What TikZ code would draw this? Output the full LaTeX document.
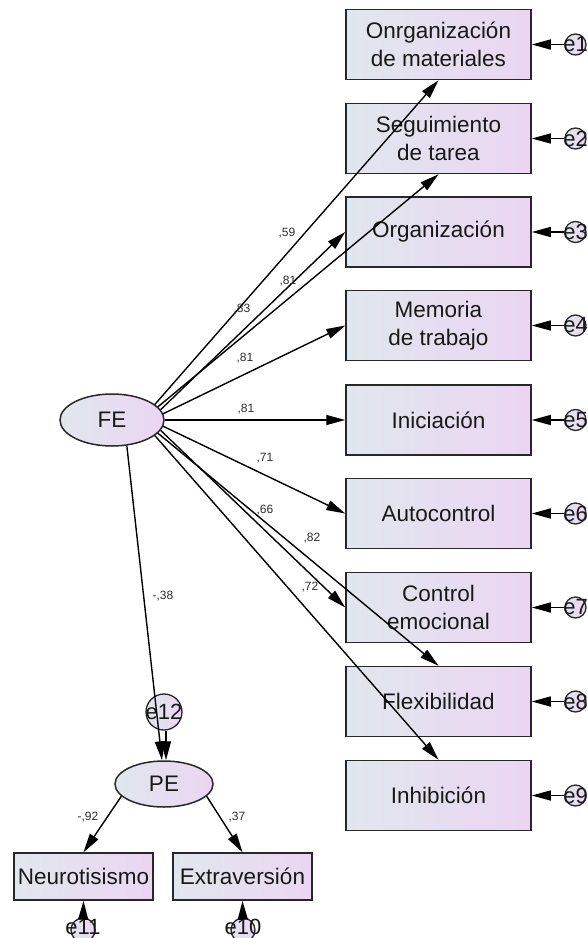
\documentclass[tikz,border=0pt]{standalone}
\usepackage{fontspec}
\setmainfont{Liberation Sans}
\usetikzlibrary{shapes.geometric,arrows.meta}
\definecolor{shadeL}{RGB}{225,231,238}
\definecolor{shadeR}{RGB}{235,213,242}
\definecolor{edgegray}{RGB}{40,40,40}
\definecolor{labgray}{RGB}{45,45,45}

\begin{document}
\begin{tikzpicture}[x=1pt,y=-1pt,
  varbox/.style={rectangle, draw=edgegray, line width=1.5pt, left color=shadeL, right color=shadeR,
    minimum width=185pt, minimum height=70pt, inner sep=0pt, align=center,
    font=\fontsize{22.5}{28}\selectfont, text=black!90},
  smallbox/.style={varbox, minimum width=139pt, minimum height=47pt},
  latent/.style={ellipse, draw=edgegray, line width=1.5pt, left color=shadeL, right color=shadeR,
    inner sep=0pt, font=\fontsize{22.5}{28}\selectfont, text=black!90},
  errc/.style={circle, draw=edgegray, line width=1.3pt, left color=shadeL, right color=shadeR,
    inner sep=0pt, minimum size=21pt},
  errtext/.style={font=\fontsize{22}{26}\selectfont, inner sep=0pt, text=black!90},
  coef/.style={font=\fontsize{12}{14}\selectfont, text=labgray, inner sep=0pt},
  reg/.style={draw=black, line width=1.4pt, -{Triangle[length=19pt,width=10pt]}}
]
\useasboundingbox (0,0) rectangle (587,938);

% observed indicators of FE
\node[varbox] (b1) at (438.5,44.5)  {Onrganización\\de materiales};
\node[varbox] (b2) at (438.5,138.5) {Seguimiento\\de tarea};
\node[varbox] (b3) at (438.5,232)   {Organización};
\node[varbox] (b4) at (438.5,325.5) {Memoria\\de trabajo};
\node[varbox] (b5) at (438.5,420)   {Iniciación};
\node[varbox] (b6) at (438.5,513.5) {Autocontrol};
\node[varbox] (b7) at (438.5,607.5) {Control\\emocional};
\node[varbox] (b8) at (438.5,701.5) {Flexibilidad};
\node[varbox] (b9) at (438.5,795.5) {Inhibición};

% error terms of the indicators
\foreach \i/\y in {1/44.5,2/138.5,3/232,4/325.5,5/420,6/513.5,7/607.5,8/701.5,9/795.5}{
  \node[errc] (e\i) at (575.5,\y) {};
  \node[errtext] (e\i t) at (e\i) {e\i};
}

% latent variables
\node[latent, minimum width=104pt, minimum height=52pt] (FE) at (112,420) {FE};
\node[latent, minimum width=98pt, minimum height=46pt] (PE) at (164,784) {PE};

% disturbance of PE
\node[errc, minimum size=36pt] (e12) at (164,712) {};
\node[errtext] (e12t) at (e12) {e12};

% observed indicators of PE
\node[smallbox] (N) at (83.5,876.5) {Neurotisismo};
\node[smallbox] (E) at (242.5,876.5) {Extraversión};

\node[errc, minimum size=24pt] (e11) at (83,930) {};
\node[errtext] (e11t) at (83,927) {e11};
\node[errc, minimum size=24pt] (e10) at (243,930) {};
\node[errtext] (e10t) at (243,927) {e10};

% loadings of FE
\draw[reg] (FE.20)  -- (b1.south);
\draw[reg] (FE.16)  -- (b2.south);
\draw[reg] (FE.12)  -- (b3.west);
\draw[reg] (FE.7)   -- (b4.west);
\draw[reg] (FE.0)   -- (b5.west);
\draw[reg] (FE.-7)  -- (b6.west);
\draw[reg] (FE.-12) -- (b7.west);
\draw[reg] (FE.-16) -- (b8.north);
\draw[reg] (FE.-20) -- (b9.north);

% structural path and PE loadings
\draw[reg] (FE.-60) -- ([xshift=-2pt]PE.north);
\draw[reg] ([xshift=2pt]e12.south) -- ([xshift=2pt]PE.north);
\draw[reg] (PE.196) -- (N.north);
\draw[reg] (PE.-16) -- (E.north);

% error arrows
\foreach \i in {1,...,9}{ \draw[reg] (e\i) -- (b\i.east); }
\draw[reg] (e11) -- (N.south);
\draw[reg] (e10) -- (E.south);

% standardized coefficients
\node[coef] (c1) at (287,233) {,59};
\node[coef] (c2) at (242,309) {,83};
\node[coef] (c3) at (288,281) {,81};
\node[coef] (c4) at (245,358) {,81};
\node[coef] (c5) at (246,409) {,81};
\node[coef] (c6) at (265,458) {,71};
\node[coef] (c7) at (265,510) {,66};
\node[coef] (c8) at (312,538) {,82};
\node[coef] (c9) at (310,587) {,72};
\node[coef] (c10) at (163,596) {-,38};
\node[coef] (c11) at (88,817) {-,92};
\node[coef] (c12) at (237,817) {,37};
\end{tikzpicture}
\end{document}
